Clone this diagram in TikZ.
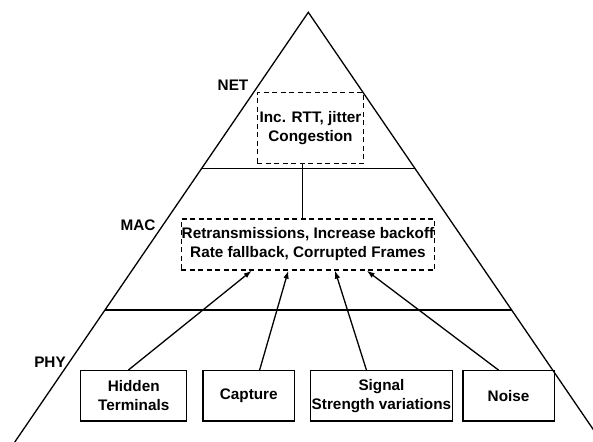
\documentclass[tikz,border=0pt]{standalone}
\usepackage{fontspec}
\setmainfont{Liberation Sans}
\usetikzlibrary{positioning,arrows.meta}

\begin{document}
\begin{tikzpicture}[x=1pt, y=-1pt, line width=1.3pt, node distance=15pt,
    every node/.style={font=\fontsize{15.3}{19}\selectfont\bfseries, align=center, inner sep=0.5pt},
    effect/.style={draw, dash pattern=on 5pt off 3.5pt},
    cause/.style={draw, minimum height=50.3pt},
    layer/.style={inner sep=0pt}]
    \useasboundingbox (0,0) rectangle (593,441);
    \clip (0,0) rectangle (593,441);
    \coordinate (top) at (308.3,12.3);
    \coordinate (bl)  at (2.5,460);
    \coordinate (br)  at (614.1,460);
    \draw (bl) -- (top) -- (br);
    \draw (201.7,168.3) -- (415,168.3);
    \draw (105,310) -- (511.6,310);

    \node (netl) [layer] at (233,85)    {NET};
    \node (macl) [layer] at (138,225)   {MAC};
    \node (phyl) [layer] at (50,362.7)  {PHY};

    \node (net) [effect, minimum width=106.4pt, minimum height=70.6pt] at (310.5,128) {Inc. RTT, jitter\\Congestion};
    \node (mac) [effect, minimum width=252.6pt, minimum height=51pt] at (308,244.5) {Retransmissions, Increase backoff\\Rate fallback, Corrupted Frames};

    \node (hid)   [cause, minimum width=106pt] at (133.7,395.9) {Hidden\\Terminals};
    \node (cap)   [cause, minimum width=91.6pt, right=of hid] {Capture};
    \node (sig)   [cause, minimum width=141.7pt, right=14.7pt of cap] {Signal\\Strength variations};
    \node (noise) [cause, minimum width=91.3pt, right=9.3pt of sig] {Noise};

    \draw ([xshift=-8pt]net.south) -- ([xshift=-5.5pt]mac.north);
    \draw[-{Latex[length=8pt,width=5.5pt]}] ([xshift=-5.4pt]hid.north)  -- ([xshift=-56.3pt]mac.south);
    \draw[-{Latex[length=8pt,width=5.5pt]}] ([xshift=10.8pt]cap.north)  -- ([xshift=-19.7pt]mac.south);
    \draw[-{Latex[length=8pt,width=5.5pt]}] ([xshift=-15pt]sig.north)   -- ([xshift=27pt]mac.south);
    \draw[-{Latex[length=8pt,width=5.5pt]}] ([xshift=-10pt]noise.north) -- ([xshift=58.7pt]mac.south);
\end{tikzpicture}
\end{document}
